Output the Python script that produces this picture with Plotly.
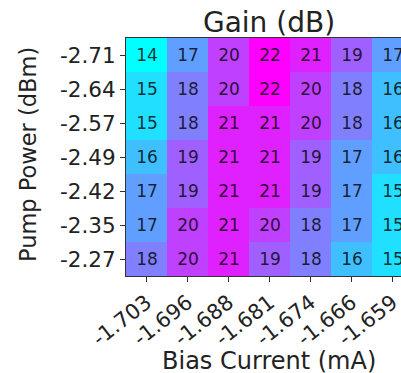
import plotly.graph_objects as go

bias_current = ["-1.703", "-1.696", "-1.688", "-1.681", "-1.674", "-1.666", "-1.659"]
pump_power = ["-2.71", "-2.64", "-2.57", "-2.49", "-2.42", "-2.35", "-2.27"]
gain = [
    [14, 17, 20, 22, 21, 19, 17],
    [15, 18, 20, 22, 20, 18, 16],
    [15, 18, 21, 21, 20, 18, 16],
    [16, 19, 21, 21, 19, 17, 16],
    [17, 19, 21, 21, 19, 17, 15],
    [17, 20, 21, 20, 18, 17, 15],
    [18, 20, 21, 19, 18, 16, 15],
]

W, H = 401, 373
L, T, B = 126, 38, 97
cell_w = 41.0
plot_w = W - L
plot_h = H - T - B
xmax = -0.5 + plot_w / cell_w

font = "DejaVu Sans"
fig = go.Figure(go.Heatmap(
    z=gain,
    x=list(range(len(bias_current))),
    y=list(range(len(pump_power))),
    colorscale=[[0, "rgb(0,255,255)"], [1, "rgb(255,0,255)"]],
    zmin=14, zmax=22,
    showscale=False,
    texttemplate="%{z}",
    textfont=dict(family=font, size=17, color="rgba(0,0,0,0.8)"),
    hoverinfo="skip",
))

fig.update_layout(
    width=W, height=H,
    margin=dict(l=L, r=0, t=T, b=B),
    paper_bgcolor="white", plot_bgcolor="white",
    font=dict(family=font, color="#222"),
    xaxis=dict(
        range=[-0.5, xmax], tickmode="array",
        tickvals=list(range(len(bias_current))), ticktext=bias_current,
        tickangle=-38, ticks="outside", ticklen=5, tickcolor="#333",
        ticklabeloverflow="allow",
        tickfont=dict(size=21, family=font, color="#222"),
        showline=True, linecolor="#333", linewidth=1, mirror=True,
        showgrid=False, zeroline=False,
    ),
    yaxis=dict(
        range=[len(pump_power) - 0.5, -0.5], tickmode="array",
        tickvals=list(range(len(pump_power))), ticktext=pump_power,
        ticks="outside", ticklen=5, tickcolor="#333",
        tickfont=dict(size=21.5, family=font, color="#222"),
        showline=True, linecolor="#333", linewidth=1, mirror=False,
        showgrid=False, zeroline=False,
    ),
    title=dict(text="Gain (dB)", font=dict(size=28, family=font, color="#222"),
               xref="container", yref="container",
               x=269 / W, y=1 - 22 / H, xanchor="center", yanchor="middle"),
    annotations=[
        dict(text="Pump Power (dBm)", textangle=-90, showarrow=False,
             xref="paper", yref="paper",
             x=-(L - 28) / plot_w, y=1 - (155 - T) / plot_h,
             xanchor="center", yanchor="middle",
             font=dict(size=22.5, family=font, color="#222")),
        dict(text="Bias Current (mA)", showarrow=False,
             xref="paper", yref="paper",
             x=(268.5 - L) / plot_w, y=-(360.5 - (H - B)) / plot_h,
             xanchor="center", yanchor="middle",
             font=dict(size=24, family=font, color="#222")),
    ],
)

fig.write_html("out.html")
